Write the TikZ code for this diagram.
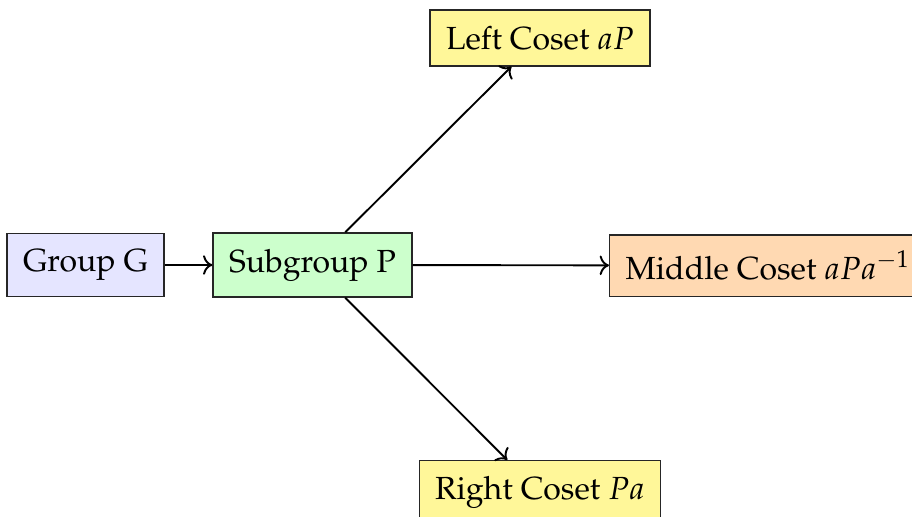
\documentclass[tikz,border=0pt]{standalone}
\usepackage[T1]{fontenc}
\usepackage{mathpazo}
\usetikzlibrary{arrows.meta}
\definecolor{cosetyellow}{RGB}{255,247,153}
\begin{document}
\begin{tikzpicture}[x=0.3125pt,y=-0.3125pt,
  box/.style={draw=black!85, inner sep=5pt, line width=0.4pt},
  conn/.style={->, line width=0.6pt}]
\useasboundingbox (0,0) rectangle (912,517);
\node[box, fill=blue!10]   (grp)  at (85.5,265)  {Group G};
\node[box, fill=green!20]  (sub)  at (312.5,265) {Subgroup P};
\node[box, fill=cosetyellow] (left) at (540,38)    {Left Coset $aP$};
\node[box, fill=orange!30, anchor=west] (mid) at (609,265.5) {Middle Coset $aPa^{-1}$};
\node[box, fill=cosetyellow, anchor=north] (right) at (540,460) {Right Coset $Pa$};
\draw[conn] (grp) -- (sub);
\draw[conn] (sub) -- (left);
\draw[conn] (sub) -- (mid);
\draw[conn] (sub) -- (right);
\end{tikzpicture}
\end{document}
